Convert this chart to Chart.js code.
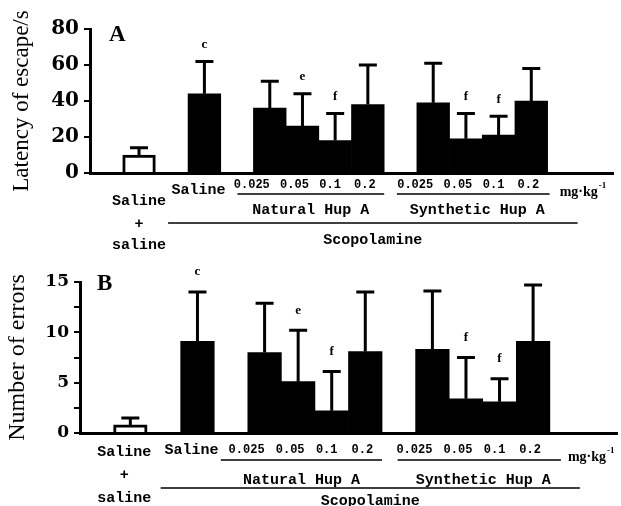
<!DOCTYPE html>
<html>
<head>
<meta charset="utf-8">
<script src="https://cdn.jsdelivr.net/npm/chart.js@4.4.1/dist/chart.umd.min.js"></script>
<style>
  body { margin: 0; background: #fff; }
  canvas { display: block; }
</style>
</head>
<body>
<canvas id="panelA" width="621" height="250"></canvas>
<canvas id="panelB" width="621" height="256"></canvas>
<script>
// slots along the x axis; empty strings are the gaps between groups
const slots = ["", "Saline + saline", "", "Saline", "",
  "0.025", "0.05", "0.1", "0.2", "",
  "0.025", "0.05", "0.1", "0.2", "", ""];
const naturalSlots = [5, 8];
const syntheticSlots = [10, 13];

// Panel A: latency of escape (s)
const latencyMean = [null, 10, null, 44, null, 36, 26, 18, 38, null, 39, 19, 21, 40, null, null];
const latencySD = [null, 4, null, 18, null, 15, 18, 15, 22, null, 22, 14, 10.5, 18, null, null];

// Panel B: number of errors
const errorsMean = [null, 0.8, null, 9.1, null, 8.0, 5.1, 2.2, 8.1, null, 8.3, 3.4, 3.1, 9.1, null, null];
const errorsSD = [null, 0.7, null, 4.9, null, 4.9, 5.1, 3.9, 5.9, null, 5.8, 4.1, 2.3, 5.6, null, null];

// significance letters above the error bars
const marks = ["", "", "", "c", "", "", "e", "f", "", "", "", "f", "f", "", "", ""];

const MONO = "'Liberation Mono', 'DejaVu Sans Mono', monospace";
const SERIF = "'Liberation Serif', 'DejaVu Serif', serif";

// draws error bars, letters and the grouped x labels
const annotate = {
  id: "annotate",
  afterDatasetsDraw(chart, _args, o) {
    const { ctx, chartArea: area, scales: { x, y } } = chart;
    const half = (x.getPixelForValue(1) - x.getPixelForValue(0)) / 2;
    const base = area.bottom;
    ctx.save();
    ctx.strokeStyle = "#000";
    ctx.fillStyle = "#000";

    // error bars
    o.means.forEach((m, i) => {
      if (m === null) return;
      const cx = x.getPixelForValue(i);
      const top = y.getPixelForValue(m + o.sds[i]);
      ctx.lineWidth = 3;
      ctx.beginPath();
      ctx.moveTo(cx, y.getPixelForValue(m));
      ctx.lineTo(cx, top);
      ctx.moveTo(cx - 9, top);
      ctx.lineTo(cx + 9, top);
      ctx.stroke();
      if (marks[i]) {
        ctx.font = "bold 13px " + SERIF;
        ctx.textAlign = "center";
        ctx.textBaseline = "middle";
        ctx.fillText(marks[i], cx, top - o.markGap);
      }
    });

    // panel letter
    ctx.font = "bold 23px " + SERIF;
    ctx.textAlign = "left";
    ctx.textBaseline = "middle";
    ctx.fillText(o.letter, area.left + o.letterDx, area.top + o.letterDy);

    // x labels
    ctx.textAlign = "center";
    ctx.textBaseline = "middle";
    ctx.font = "bold 15px " + MONO;
    const c1 = x.getPixelForValue(1);
    ctx.fillText("Saline", c1 - o.pairDx, base + o.pairY[0]);
    ctx.fillText("+", c1 - o.pairDx, base + o.pairY[1]);
    ctx.fillText("saline", c1 - o.pairDx, base + o.pairY[2]);
    ctx.fillText("Saline", x.getPixelForValue(3) - 6, base + o.salineY);

    const doseShift = [-18, -8, -5, -3];
    ctx.font = "bold 12px " + MONO;
    [naturalSlots, syntheticSlots].forEach(([a, b]) => {
      for (let i = a; i <= b; i++) {
        ctx.fillText(slots[i], x.getPixelForValue(i) + doseShift[i - a], base + o.doseY);
      }
    });

    // group rules and names
    ctx.lineWidth = 1.5;
    const nl = x.getPixelForValue(naturalSlots[0]) - half - o.natLeft;
    const nr = x.getPixelForValue(naturalSlots[1]) + half;
    const sl = x.getPixelForValue(syntheticSlots[0]) - half - o.synLeft;
    const sr = x.getPixelForValue(syntheticSlots[1]) + half + o.synRight;
    const pl = x.getPixelForValue(3) - half - 20;
    const pr = x.getPixelForValue(13) + half + 30;
    ctx.beginPath();
    ctx.moveTo(nl, base + o.ruleY); ctx.lineTo(nr, base + o.ruleY);
    ctx.moveTo(sl, base + o.ruleY); ctx.lineTo(sr, base + o.ruleY);
    ctx.moveTo(pl, base + o.scopRuleY); ctx.lineTo(pr, base + o.scopRuleY);
    ctx.stroke();

    ctx.font = "bold 15px " + MONO;
    ctx.fillText("Natural Hup A", (nl + nr) / 2, base + o.groupY);
    ctx.fillText("Synthetic Hup A", (sl + sr) / 2 + 4, base + o.groupY);
    ctx.fillText("Scopolamine", (pl + pr) / 2, base + o.scopY);

    // unit
    const ux = x.getPixelForValue(13) + half + o.unitDx;
    ctx.textAlign = "left";
    ctx.font = "bold 14px " + SERIF;
    ctx.fillText("mg·kg", ux, base + o.unitY);
    const w = ctx.measureText("mg·kg").width;
    ctx.font = "bold 9px " + SERIF;
    ctx.fillText("-1", ux + w + 1, base + o.unitY - 6);
    ctx.restore();
  }
};

function makePanel(id, means, sds, cfg) {
  return new Chart(document.getElementById(id), {
    type: "bar",
    data: {
      labels: slots,
      datasets: [{
        data: means,
        backgroundColor: means.map((_, i) => i === 1 ? "#fff" : "#000"),
        borderColor: "#000",
        borderWidth: means.map((_, i) => i === 1 ? 3 : 0),
        barPercentage: 1,
        categoryPercentage: 1,
      }],
    },
    options: {
      responsive: false,
      devicePixelRatio: 1,
      animation: false,
      layout: { padding: { top: cfg.top, right: cfg.right, left: 0, bottom: 0 } },
      plugins: {
        legend: { display: false },
        tooltip: { enabled: false },
        annotate: Object.assign({ means, sds }, cfg.notes),
      },
      scales: {
        x: {
          grid: { display: false },
          border: { display: true, color: "#000", width: 3 },
          ticks: { display: false },
          afterFit: (s) => { s.height = cfg.xHeight; },
        },
        y: {
          min: 0,
          max: cfg.max,
          grid: { drawOnChartArea: false, drawTicks: true, tickLength: 6, lineWidth: 2, color: "#000" },
          border: { display: true, color: "#000", width: 3 },
          ticks: {
            stepSize: cfg.step,
            color: "#000",
            padding: 5,
            font: { family: "'DejaVu Serif', serif", weight: "bold", size: cfg.tickSize },
            callback: (v) => v % cfg.labelEvery === 0 ? v : "",
          },
          title: {
            display: true,
            text: cfg.title,
            color: "#000",
            padding: { top: cfg.titlePad, bottom: 0 },
            font: { family: SERIF, size: cfg.titleSize },
          },
          afterFit: (s) => { s.width = cfg.yWidth; },
        },
      },
    },
    plugins: [annotate],
  });
}

makePanel("panelA", latencyMean, latencySD, {
  top: 29, right: 8, xHeight: 77, yWidth: 90, max: 80, step: 10, labelEvery: 20,
  tickSize: 20, title: "Latency of escape/s", titleSize: 23, titlePad: 8,
  notes: {
    letter: "A", letterDx: 19, letterDy: 6, markGap: 17,
    pairDx: 0, pairY: [28, 51, 72], salineY: 17, doseY: 12,
    ruleY: 21, natLeft: 16, synLeft: 20, synRight: 2,
    groupY: 37, scopRuleY: 50, scopY: 67, unitDx: 12, unitY: 19,
  },
});

makePanel("panelB", errorsMean, errorsSD, {
  top: 32, right: 4, xHeight: 73, yWidth: 80, max: 15, step: 2.5, labelEvery: 5,
  tickSize: 17, title: "Number of errors", titleSize: 24, titlePad: 3,
  notes: {
    letter: "B", letterDx: 17, letterDy: 2, markGap: 20,
    pairDx: 6, pairY: [19, 42, 65], salineY: 17, doseY: 17,
    ruleY: 27, natLeft: 27, synLeft: 18, synRight: 11,
    groupY: 47, scopRuleY: 55, scopY: 68, unitDx: 18, unitY: 24,
  },
});
</script>
</body>
</html>
